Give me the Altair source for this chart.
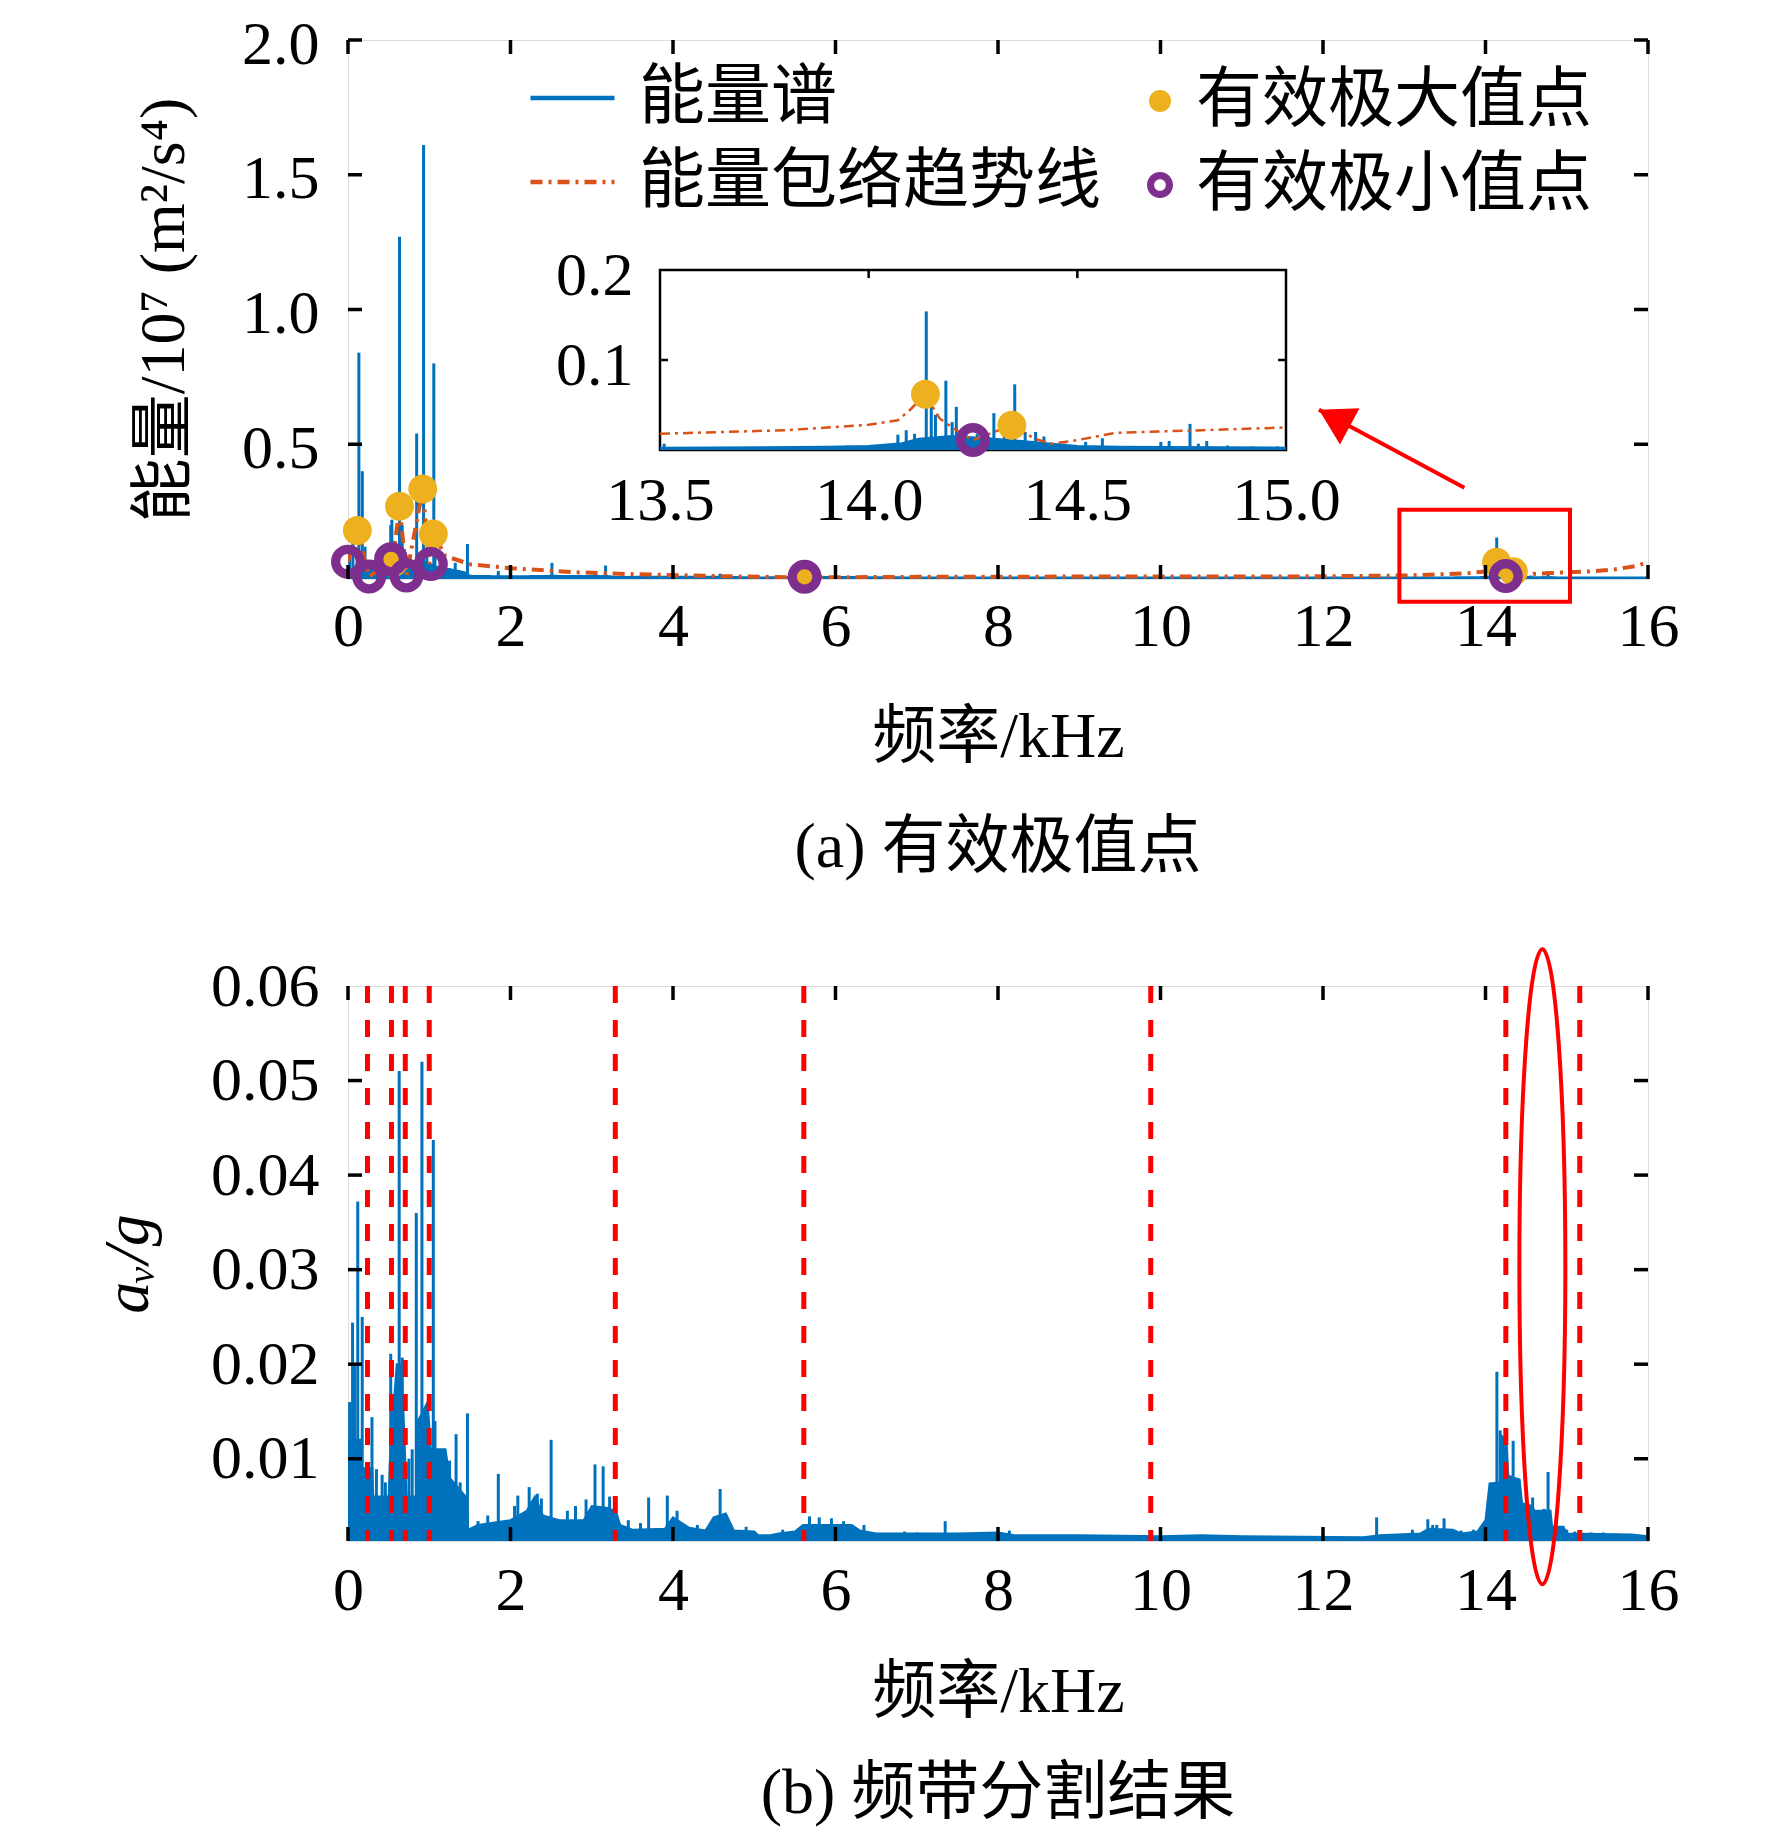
import altair as alt
import pandas as pd

FONT = "Liberation Serif, DejaVu Serif, Noto Sans CJK SC"
BLUE = "#0072BD"
ORANGE = "#D95319"
YELLOW = "#EDB120"
PURPLE = "#7E2F8E"
RED = "#FF0000"

# ---------------- (a) energy spectrum ----------------
top_spike_f = [0.02, 0.06, 0.134, 0.176, 0.21, 0.30, 0.35, 0.42, 0.526, 0.54, 0.634, 0.667, 0.70,
               0.845, 0.93, 0.97, 1.056, 1.07, 1.20, 1.25, 1.32, 1.47, 1.85, 2.51, 3.04, 3.17, 4.58, 5.68,
               13.51, 13.95, 14.0, 14.03, 14.07, 14.09, 14.11, 14.138, 14.15, 14.16, 14.185, 14.20, 14.21,
               14.23, 14.26, 14.30, 14.325, 14.35, 14.375, 14.40, 14.42, 14.47, 14.52, 14.56, 14.70, 14.72,
               14.77, 14.79, 14.81, 14.86, 14.92, 14.98]
top_spike_e = [0.10, 0.15, 0.84, 0.40, 0.12, 0.05, 0.04, 0.04, 0.20, 0.22, 1.27, 0.20, 0.10,
               0.54, 1.61, 0.10, 0.80, 0.12, 0.05, 0.04, 0.06, 0.13, 0.03, 0.06, 0.03, 0.05, 0.02, 0.01,
               0.007, 0.005, 0.005, 0.006, 0.017, 0.022, 0.018, 0.154, 0.053, 0.039, 0.077, 0.031, 0.048,
               0.024, 0.018, 0.041, 0.028, 0.073, 0.020, 0.020, 0.015, 0.007, 0.009, 0.013, 0.009, 0.010,
               0.029, 0.007, 0.010, 0.005, 0.004, 0.004]

top_base_f = [0.0, 0.15, 0.3, 0.5, 0.65, 0.8, 0.95, 1.1, 1.3, 1.45, 1.5, 2.0, 2.5, 3.2, 3.3, 4.6, 5.0,
              6.0, 7.0, 10.0, 13.5, 13.9, 14.0, 14.08, 14.12, 14.2, 14.3, 14.4, 14.5, 14.6, 15.0, 16.0]
top_base_e = [0.03, 0.035, 0.03, 0.04, 0.06, 0.04, 0.06, 0.04, 0.03, 0.02, 0.008, 0.006, 0.008, 0.007,
              0.004, 0.005, 0.002, 0.004, 0.002, 0.002, 0.002, 0.003, 0.004, 0.007, 0.012, 0.015, 0.012,
              0.008, 0.004, 0.003, 0.002, 0.002]

env_f = [0.0, 0.115, 0.26, 0.45, 0.55, 0.634, 0.72, 0.92, 1.0, 1.05, 1.2, 1.5, 2.0, 2.8, 3.5, 4.5,
         5.61, 7.0, 9.0, 11.0, 12.0, 13.0, 13.5, 13.8, 14.0, 14.07, 14.1, 14.136, 14.17, 14.21, 14.25,
         14.3, 14.343, 14.4, 14.44, 14.5, 14.59, 14.8, 15.0, 15.3, 15.6, 15.85, 16.0]
env_e = [0.064, 0.18, 0.009, 0.05, 0.065, 0.27, 0.013, 0.334, 0.056, 0.167, 0.085, 0.055, 0.04, 0.025,
         0.018, 0.011, 0.006, 0.008, 0.009, 0.009, 0.01, 0.013, 0.018, 0.022, 0.028, 0.033, 0.045, 0.062,
         0.035, 0.022, 0.011, 0.02, 0.0275, 0.012, 0.007, 0.011, 0.019, 0.022, 0.025, 0.028, 0.036,
         0.048, 0.062]

max_f = [0.115, 0.555, 0.634, 0.92, 1.05, 5.62, 14.136, 14.343]
max_e = [0.18, 0.06, 0.27, 0.334, 0.167, 0.008, 0.062, 0.0275]
min_f = [0.0, 0.26, 0.53, 0.72, 1.02, 5.62, 14.25]
min_e = [0.064, 0.009, 0.073, 0.013, 0.056, 0.008, 0.011]

series_names = ["能量谱", "能量包络趋势线"]
point_names = ["有效极大值点", "有效极小值点"]

zoom_box_f = [12.94, 15.04]
zoom_box_e = [0.257, -0.084]
arrow_f = [13.74, 11.95]
arrow_e = [0.339, 0.628]

inset_f = [13.5, 15.0]
inset_e = [0.0, 0.2]

# ---------------- (b) band division ----------------
bot_spike_f = [0.02, 0.056, 0.08, 0.12, 0.175, 0.24, 0.295, 0.35, 0.42, 0.46, 0.526, 0.57, 0.63, 0.667,
               0.75, 0.79, 0.84, 0.91, 0.97, 1.05, 1.07, 1.12, 1.17, 1.25, 1.33, 1.38, 1.47, 1.6, 1.72,
               1.85, 2.05, 2.09, 2.23, 2.33, 2.38, 2.5, 2.7, 2.8, 2.93, 3.04, 3.14, 3.22, 3.45, 3.6, 3.70,
               3.93, 4.05, 4.3, 4.58, 4.9, 5.35, 5.68, 5.8, 5.95, 6.1, 6.35, 6.85, 7.0, 7.35, 7.8, 8.14,
               8.3, 8.6, 9.33, 9.6, 10.6, 10.8, 12.66, 12.9, 13.1, 13.29, 13.35, 13.4, 13.49, 13.7, 13.85,
               14.14, 14.18, 14.34, 14.58, 14.72, 14.77, 15.0, 15.1, 15.3, 15.45, 15.6]
bot_spike_a = [0.016, 0.0244, 0.02, 0.0372, 0.025, 0.008, 0.0144, 0.0089, 0.0083, 0.0075, 0.0211, 0.012,
               0.051, 0.0207, 0.01, 0.011, 0.036, 0.052, 0.0152, 0.0437, 0.014, 0.0105, 0.009, 0.0098,
               0.0126, 0.0075, 0.0148, 0.0034, 0.004, 0.0084, 0.005, 0.0061, 0.007, 0.0063, 0.0058, 0.012,
               0.0045, 0.005, 0.0057, 0.0094, 0.0092, 0.006, 0.0035, 0.0032, 0.0059, 0.0061, 0.0045, 0.003,
               0.0068, 0.0028, 0.0025, 0.0039, 0.0038, 0.0037, 0.0034, 0.003, 0.0023, 0.0022, 0.0034,
               0.0022, 0.0024, 0.0018, 0.0016, 0.0018, 0.0017, 0.0018, 0.0019, 0.0038, 0.0018, 0.0025,
               0.0036, 0.003, 0.003, 0.0037, 0.0024, 0.0025, 0.0192, 0.013, 0.0119, 0.0059, 0.0047, 0.0086,
               0.0025, 0.0023, 0.0022, 0.0022, 0.0021]

bot_base_f = [0.0, 0.15, 0.16, 0.3, 0.31, 0.5, 0.52, 0.6, 0.66, 0.7, 0.72, 0.84, 0.86, 0.98, 1.02, 1.2,
              1.25, 1.45, 1.48, 1.6, 2.0, 2.2, 2.3, 2.4, 2.6, 2.9, 3.0, 3.2, 3.3, 3.35, 3.5, 3.9, 4.0,
              4.2, 4.4, 4.5, 4.65, 4.75, 5.0, 5.05, 5.2, 5.3, 5.5, 5.6, 6.2, 6.3, 6.5, 7.5, 8.0, 8.2,
              9.0, 10.0, 10.5, 11.0, 12.5, 12.7, 13.2, 13.3, 13.6, 13.7, 13.9, 14.0, 14.05, 14.18, 14.2,
              14.26, 14.28, 14.42, 14.45, 14.58, 14.6, 14.8, 14.82, 14.96, 15.0, 15.8, 16.0]
bot_base_a = [0.012, 0.012, 0.009, 0.009, 0.006, 0.006, 0.011, 0.02, 0.02, 0.011, 0.006, 0.006, 0.014,
              0.016, 0.011, 0.011, 0.008, 0.006, 0.0025, 0.003, 0.0035, 0.0045, 0.006, 0.004, 0.0035,
              0.0035, 0.005, 0.0048, 0.0044, 0.003, 0.0025, 0.0026, 0.0038, 0.0027, 0.0024, 0.0038,
              0.0042, 0.0024, 0.0023, 0.0019, 0.0019, 0.0021, 0.0023, 0.003, 0.003, 0.0024, 0.0021, 0.0021,
              0.0022, 0.0019, 0.0019, 0.0018, 0.0019, 0.0018, 0.0017, 0.0019, 0.0021, 0.0026, 0.0025,
              0.0021, 0.0023, 0.0035, 0.0074, 0.0075, 0.0124, 0.012, 0.0082, 0.0078, 0.0053, 0.005,
              0.0045, 0.0045, 0.0028, 0.0028, 0.0021, 0.002, 0.0018]

band_edges = [0.24, 0.535, 0.705, 1.0, 3.29, 5.61, 9.88, 14.25, 15.16]
ellipse_f = [14.70]
ellipse_a = [0.0303]

top_xticks = list(range(0, 17, 2))
top_yticks = [0.5, 1.0, 1.5, 2.0]
bot_yticks = [0.01, 0.02, 0.03, 0.04, 0.05, 0.06]
inset_xticks = [13.5, 14.0, 14.5, 15.0]
inset_yticks = [0.1, 0.2]

# ---------------- shapes ----------------
K = 0.5523


def circ(r):
    k = K * r
    return (f"M {r} 0 C {r} {k} {k} {r} 0 {r} C {-k} {r} {-r} {k} {-r} 0 "
            f"C {-r} {-k} {-k} {-r} 0 {-r} C {k} {-r} {r} {-k} {r} 0 Z")


def circ_rev(r):
    k = K * r
    return (f"M {r} 0 C {r} {-k} {k} {-r} 0 {-r} C {-k} {-r} {-r} {-k} {-r} 0 "
            f"C {-r} {k} {-k} {r} 0 {r} C {k} {r} {r} {k} {r} 0 Z")


DOT = circ(0.85)
RING = circ(1) + " " + circ_rev(0.45)
ea = 0.0724
ELLIPSE = (f"M 0 -1 C {K*ea} -1 {ea} {-K} {ea} 0 C {ea} {K} {K*ea} 1 0 1 "
           f"C {-K*ea} 1 {-ea} {K} {-ea} 0 C {-ea} {-K} {-K*ea} -1 0 -1 Z")
HEAD = "M 0 0 L 0.586 1 L -0.586 1 Z"

# ---------------- data frames ----------------
spk = pd.DataFrame({"f": top_spike_f, "v": top_spike_e})
base = pd.DataFrame({"f": top_base_f, "v": top_base_e})
lines = pd.concat([
    pd.DataFrame({"f": top_base_f, "v": top_base_e, "series": series_names[0]}),
    pd.DataFrame({"f": env_f, "v": env_e, "series": series_names[1]}),
])
pts = pd.concat([
    pd.DataFrame({"f": max_f, "v": max_e, "pt": point_names[0]}),
    pd.DataFrame({"f": min_f, "v": min_e, "pt": point_names[1]}),
])
box = pd.DataFrame({"f": [zoom_box_f[0]], "f2": [zoom_box_f[1]], "v": [zoom_box_e[0]], "v2": [zoom_box_e[1]]})
arr = pd.DataFrame({"f": [arrow_f[0]], "f2": [arrow_f[1]], "v": [arrow_e[0]], "v2": [arrow_e[1]]})
head = pd.DataFrame({"f": [arrow_f[1]], "v": [arrow_e[1]]})

W = 1300
H1 = 539
H2 = 555
TL = 14

AX = dict(labelFont=FONT, labelFontSize=62, titleFont=FONT, titleFontSize=64, titleFontWeight="normal",
          labelColor="black", titleColor="black", domain=False, ticks=False, tickSize=0, grid=False,
          labelFlush=False, labelOverlap=False)

xs_top = alt.Scale(domain=[0, 16], nice=False, zero=False)
ys_top = alt.Scale(domain=[0, 2.0], nice=False, zero=False)
ax_x_top = alt.Axis(values=top_xticks, format="d", title="频率/kHz", labelPadding=17, titlePadding=48, **AX)
ax_y_top = alt.Axis(values=top_yticks, format=".1f", title="能量/10⁷ (m²/s⁴)", labelPadding=29,
                    titlePadding=45, labelOffset=4, **AX)


def XT(field="f"):
    return alt.X(f"{field}:Q", scale=xs_top, axis=ax_x_top)


def YT(field="v"):
    return alt.Y(f"{field}:Q", scale=ys_top, axis=ax_y_top)


m_area = alt.Chart(base).mark_area(color=BLUE, opacity=1, clip=True).encode(x=XT(), y=YT())
m_spk = alt.Chart(spk).mark_rule(color=BLUE, strokeWidth=3, clip=True).encode(x=XT(), y=YT(), y2=alt.datum(0))
line_legend = alt.Legend(orient="none", legendX=180, legendY=26, direction="vertical", title=None,
                         labelFont=FONT, labelFontSize=66, labelLimit=1000, symbolType="stroke",
                         symbolSize=7056, symbolStrokeWidth=4.5, labelOffset=22, rowPadding=18,
                         clipHeight=64, padding=0, labelColor="black")
m_lines = alt.Chart(lines).mark_line(strokeWidth=4, clip=True).encode(
    x=XT(), y=YT(),
    stroke=alt.Stroke("series:N", scale=alt.Scale(domain=series_names, range=[BLUE, ORANGE]), legend=line_legend),
    strokeDash=alt.StrokeDash("series:N", scale=alt.Scale(domain=series_names, range=[[1, 0], [12, 6, 3, 6]]),
                              legend=line_legend),
)
pt_legend = alt.Legend(orient="none", legendX=779, legendY=29, direction="vertical", title=None,
                       labelFont=FONT, labelFontSize=66, labelLimit=1000, symbolSize=676,
                       symbolStrokeWidth=0, labelOffset=3, rowPadding=18, clipHeight=64, padding=0,
                       labelColor="black")
m_pts = alt.Chart(pts).mark_point(filled=True, opacity=1, size=1156, strokeWidth=0).encode(
    x=XT(), y=YT(),
    color=alt.Color("pt:N", scale=alt.Scale(domain=point_names, range=[YELLOW, PURPLE]), legend=pt_legend),
    shape=alt.Shape("pt:N", scale=alt.Scale(domain=point_names, range=[DOT, RING]), legend=pt_legend),
)
m_box = alt.Chart(box).mark_rect(fillOpacity=0, stroke=RED, strokeWidth=4).encode(
    x=XT(), x2="f2:Q", y=YT(), y2="v2:Q")
m_arr = alt.Chart(arr).mark_rule(color=RED, strokeWidth=4).encode(x=XT(), x2="f2:Q", y=YT(), y2="v2:Q")
m_head = alt.Chart(head).mark_point(shape=HEAD, filled=True, color=RED, opacity=1, size=4900,
                                    angle=298.4, strokeWidth=0).encode(x=XT(), y=YT())

tx_top = pd.DataFrame({"t": top_xticks})
ty_top = pd.DataFrame({"t": top_yticks})
tick_style = dict(color="black", strokeWidth=3.5)
ticks_top = [
    alt.Chart(tx_top).mark_rule(**tick_style).encode(x=XT("t"), y=alt.value(H1), y2=alt.value(H1 - TL)),
    alt.Chart(tx_top).mark_rule(**tick_style).encode(x=XT("t"), y=alt.value(0), y2=alt.value(TL)),
    alt.Chart(ty_top).mark_rule(**tick_style).encode(y=YT("t"), x=alt.value(0), x2=alt.value(TL)),
    alt.Chart(ty_top).mark_rule(**tick_style).encode(y=YT("t"), x=alt.value(W - TL), x2=alt.value(W)),
]

main_group = alt.layer(m_area, m_spk, m_lines, m_pts, m_box, m_arr, m_head, *ticks_top)

# ---- inset ----
IX0, IX1, IY0, IY1 = 312, 938, 410, 230
xs_in = alt.Scale(domain=[13.5, 15.0], range=[IX0, IX1], nice=False, zero=False)
ys_in = alt.Scale(domain=[0, 0.2], range=[IY0, IY1], nice=False, zero=False)
ax_x_in = alt.Axis(orient="bottom", offset=IY0 - H1, values=inset_xticks, format=".1f", title=None,
                   labelPadding=20, **AX)
ax_y_in = alt.Axis(orient="left", offset=-IX0, values=inset_yticks, format=".1f", title=None,
                   labelPadding=27, labelOffset=5, **AX)


def XI(field="f"):
    return alt.X(f"{field}:Q", scale=xs_in, axis=ax_x_in)


def YI(field="v"):
    return alt.Y(f"{field}:Q", scale=ys_in, axis=ax_y_in)


in_filter = (alt.datum.f >= 13.5) & (alt.datum.f <= 15.0)

frame_df = pd.DataFrame({"f": [inset_f[0]], "f2": [inset_f[1]], "v": [inset_e[0]], "v2": [inset_e[1]]})
i_frame = alt.Chart(frame_df).mark_rect(fill="white", stroke="black", strokeWidth=2.5).encode(
    x=XI(), x2="f2:Q", y=YI(), y2="v2:Q")
i_area = alt.Chart(base).transform_filter(in_filter).mark_area(color=BLUE, opacity=1).encode(x=XI(), y=YI())
i_spk = alt.Chart(spk).transform_filter(in_filter).mark_rule(color=BLUE, strokeWidth=3).encode(
    x=XI(), y=YI(), y2=alt.datum(0))
i_base = alt.Chart(base).transform_filter(in_filter).mark_line(color=BLUE, strokeWidth=3).encode(x=XI(), y=YI())
env_df = pd.DataFrame({"f": env_f, "v": env_e})
i_env = alt.Chart(env_df).transform_filter(in_filter).mark_line(
    color=ORANGE, strokeWidth=2.5, strokeDash=[10, 5, 3, 5]).encode(x=XI(), y=YI())
i_max = alt.Chart(pd.DataFrame({"f": max_f, "v": max_e})).transform_filter(in_filter).mark_point(
    shape=DOT, filled=True, color=YELLOW, opacity=1, size=1156, strokeWidth=0).encode(x=XI(), y=YI())
i_min = alt.Chart(pd.DataFrame({"f": min_f, "v": min_e})).transform_filter(in_filter).mark_point(
    shape=RING, filled=True, color=PURPLE, opacity=1, size=1156, strokeWidth=0).encode(x=XI(), y=YI())
itx = pd.DataFrame({"t": [14.0, 14.5]})
ity = pd.DataFrame({"t": [0.1]})
i_style = dict(color="black", strokeWidth=2.5)
i_ticks = [
    alt.Chart(itx).mark_rule(**i_style).encode(x=XI("t"), y=alt.datum(0.2), y2=alt.datum(0.191)),
    alt.Chart(ity).mark_rule(**i_style).encode(y=YI("t"), x=alt.datum(13.5), x2=alt.datum(13.519)),
    alt.Chart(ity).mark_rule(**i_style).encode(y=YI("t"), x=alt.datum(14.981), x2=alt.datum(15.0)),
]
inset_group = alt.layer(i_frame, i_area, i_spk, i_base, i_env, i_max, i_min, *i_ticks)

top = alt.layer(main_group, inset_group).resolve_scale(x="independent", y="independent").properties(
    width=W, height=H1,
    title=alt.TitleParams("(a) 有效极值点", orient="bottom", anchor="middle", font=FONT, fontSize=64,
                          fontWeight="normal", color="black", offset=47))

# ---------------- bottom ----------------
xs_b = alt.Scale(domain=[0, 16], nice=False, zero=False)
ys_b = alt.Scale(domain=[0.0013, 0.06], nice=False, zero=False)
ax_x_b = alt.Axis(values=top_xticks, format="d", title="频率/kHz", labelPadding=19, titlePadding=39, **AX)
ax_y_b = alt.Axis(values=bot_yticks, format=".2f", title="aᵥ/g", titleFontStyle="italic", labelPadding=29,
                  titlePadding=50, **AX)


def XB(field="f"):
    return alt.X(f"{field}:Q", scale=xs_b, axis=ax_x_b)


def YB(field="v"):
    return alt.Y(f"{field}:Q", scale=ys_b, axis=ax_y_b)


bbase = pd.DataFrame({"f": bot_base_f, "v": bot_base_a})
bspk = pd.DataFrame({"f": bot_spike_f, "v": bot_spike_a})
b_area = alt.Chart(bbase).mark_area(color=BLUE, opacity=1, clip=True,
                                    line={"color": BLUE, "strokeWidth": 2}).encode(
    x=XB(), y=YB(), y2=alt.datum(0))
b_spk = alt.Chart(bspk).mark_rule(color=BLUE, strokeWidth=3, clip=True).encode(x=XB(), y=YB(), y2=alt.datum(0))
b_bands = alt.Chart(pd.DataFrame({"f": band_edges})).mark_rule(
    color=RED, strokeWidth=5, strokeDash=[17, 17]).encode(x=XB())
b_ell = alt.Chart(pd.DataFrame({"f": ellipse_f, "v": ellipse_a})).mark_point(
    shape=ELLIPSE, filled=False, stroke=RED, strokeWidth=4, opacity=1, size=635 ** 2).encode(x=XB(), y=YB())
ty_bot = pd.DataFrame({"t": [0.01, 0.02, 0.03, 0.04, 0.05]})
ticks_bot = [
    alt.Chart(tx_top).mark_rule(**tick_style).encode(x=XB("t"), y=alt.value(H2), y2=alt.value(H2 - TL)),
    alt.Chart(tx_top).mark_rule(**tick_style).encode(x=XB("t"), y=alt.value(0), y2=alt.value(TL)),
    alt.Chart(ty_bot).mark_rule(**tick_style).encode(y=YB("t"), x=alt.value(0), x2=alt.value(TL)),
    alt.Chart(ty_bot).mark_rule(**tick_style).encode(y=YB("t"), x=alt.value(W - TL), x2=alt.value(W)),
]
bottom = alt.layer(b_area, b_spk, b_bands, b_ell, *ticks_bot).properties(
    width=W, height=H2,
    title=alt.TitleParams("(b) 频带分割结果", orient="bottom", anchor="middle", font=FONT, fontSize=64,
                          fontWeight="normal", color="black", offset=38))

chart = alt.vconcat(top, bottom, spacing=59).resolve_scale(
    x="independent", y="independent", color="independent", shape="independent",
    stroke="independent", strokeDash="independent"
).properties(
    padding={"left": 88, "top": 4, "right": 5, "bottom": 5}
).configure_view(stroke="black", strokeWidth=3.5).configure(background="white")

chart.save("out.html", embed_options={"renderer": "svg", "actions": False})
